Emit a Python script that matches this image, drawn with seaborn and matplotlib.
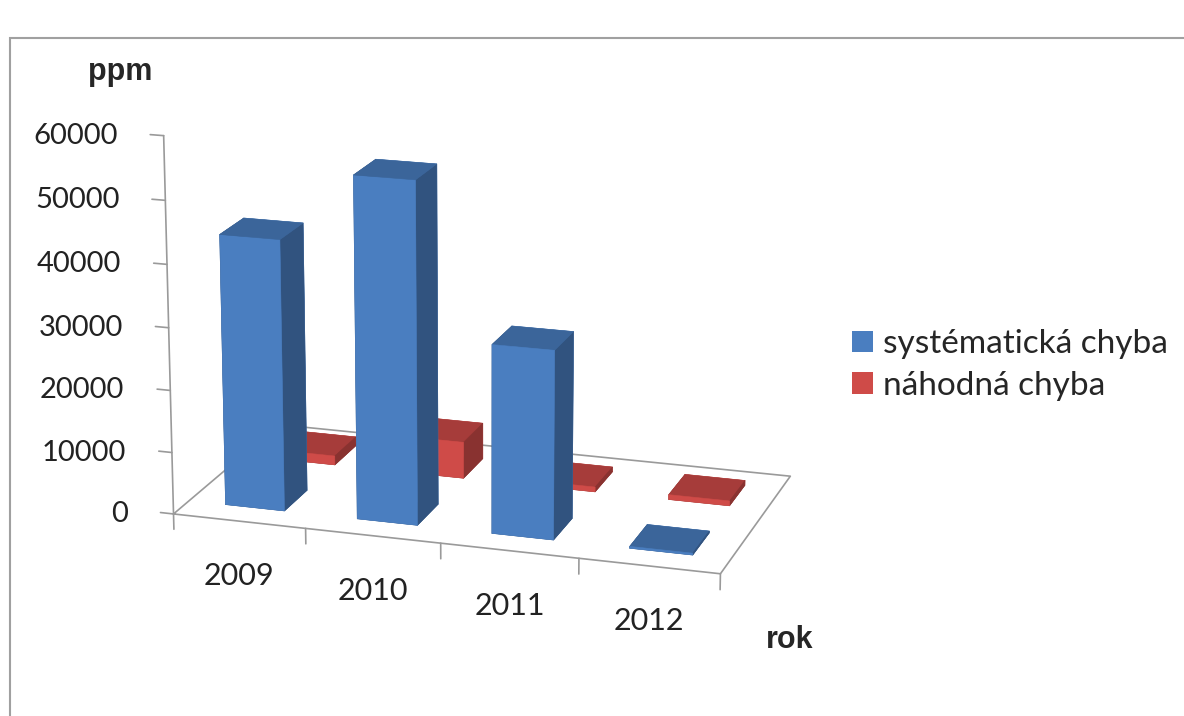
import numpy as np
import matplotlib
matplotlib.use("Agg")
import matplotlib.pyplot as plt
import matplotlib.colors as mcolors
import seaborn as sns
from matplotlib.patches import Patch, Rectangle
from mpl_toolkits.mplot3d import proj3d

# data
roky = ["2009", "2010", "2011", "2012"]
serie = ["systématická chyba", "náhodná chyba"]
systematicka = [43500, 54500, 30000, 300]
nahodna = [1500, 6000, 800, 800]
z_ticks = [0, 10000, 20000, 30000, 40000, 50000, 60000]

sns.set_theme(style="white")
plt.rcParams["font.family"] = ["Lato", "DejaVu Sans"]

paleta = sns.color_palette(["#4A7EC0", "#CF4B48"])
osa = "#9a9a9a"


def shades(c):
    c = np.array(mcolors.to_rgb(c))
    # order used by bar3d: -z, +z, -y, +y, -x, +x
    return [c * 0.7, c * 0.8, c, c, c * 0.66, c * 0.66]


fig = plt.figure(figsize=(11.84, 7.16), dpi=100)
fig.patch.set_facecolor("white")

ax = fig.add_axes([0.094, 0.129, 0.62, 0.85], projection="3d")
ax.computed_zorder = False
ax.set_proj_type("persp", focal_length=1.1)
ax.view_init(elev=16.5, azim=-72.5)
ax.set_box_aspect((4.15, 2.2, 2.87), zoom=1.19)
ax.set_xlim3d(-0.5, 3.5)
ax.set_ylim3d(-0.5, 1.5)
ax.set_zlim3d(0, 60000)
ax.set_axis_off()

# floor
fx = [-0.5, 3.5, 3.5, -0.5, -0.5]
fy = [-0.5, -0.5, 1.5, 1.5, -0.5]
ax.plot(fx, fy, [0] * 5, color=osa, lw=1.2, zorder=0, clip_on=False)

# value axis
ax.plot([-0.5, -0.5], [-0.5, -0.5], [0, 60000], color=osa, lw=1.2, zorder=0,
        clip_on=False)
for z in z_ticks:
    ax.plot([-0.5, -0.6], [-0.5, -0.5], [z, z], color=osa, lw=1.2, zorder=0,
            clip_on=False)

# category ticks
for i in range(len(roky) + 1):
    ax.plot([i - 0.5, i - 0.5], [-0.5, -0.5], [0, -2500], color=osa,
            lw=1.2, zorder=0, clip_on=False)

# bars
xs, ys, dzs, cols = [], [], [], []
for row, (vals, c) in enumerate(zip([systematicka, nahodna], paleta)):
    for i, v in enumerate(vals):
        xs.append(i - 0.22)
        ys.append(row - 0.22)
        dzs.append(v)
        cols.extend(shades(c))
n = len(xs)
bars = ax.bar3d(xs, ys, np.zeros(n), np.full(n, 0.45), np.full(n, 0.44), dzs,
                color=cols, edgecolor=cols, linewidth=0.4, shade=False, zorder=2)
bars.set_clip_on(False)

# tick labels: project the 3D anchor points to figure pixels
fig.canvas.draw()
M = ax.get_proj()


def to_px(x, y, z):
    px, py, _ = proj3d.proj_transform(x, y, z, M)
    return ax.transData.transform((px, py))


for z in z_ticks:
    px, py = to_px(-0.5, -0.5, z)
    fig.text((px - 46) / 1184, py / 716, f"{z}", ha="right", va="center",
             fontsize=21, color="#222222")
for i, r in enumerate(roky):
    px, py = to_px(i, -0.5, 0)
    fig.text(px / 1184, (py - 55) / 716, r, ha="center", va="center",
             fontsize=22, color="#222222")

fig.text(88 / 1184, 1 - 72 / 716, "ppm", fontsize=22, fontweight="bold",
         ha="left", va="center", family=["Liberation Sans Narrow", "Liberation Sans"])
fig.text(766 / 1184, 1 - 640 / 716, "rok", fontsize=22, fontweight="bold",
         ha="left", va="center", family=["Liberation Sans Narrow", "Liberation Sans"])

handles = [Patch(facecolor=c, edgecolor="none") for c in paleta]
fig.legend(handles, serie, loc="center left", bbox_to_anchor=(0.7, 0.49),
           frameon=False, fontsize=24, handlelength=0.62, handleheight=0.62,
           handletextpad=0.3, labelspacing=0.35, borderpad=0.2)

fig.patches.append(Rectangle((10 / 1184, -0.1), 1.2, 1 - 38 / 716 + 0.1,
                             transform=fig.transFigure, fill=False,
                             edgecolor="#a0a0a0", lw=1.5))

fig.savefig("out.png", dpi=100)
